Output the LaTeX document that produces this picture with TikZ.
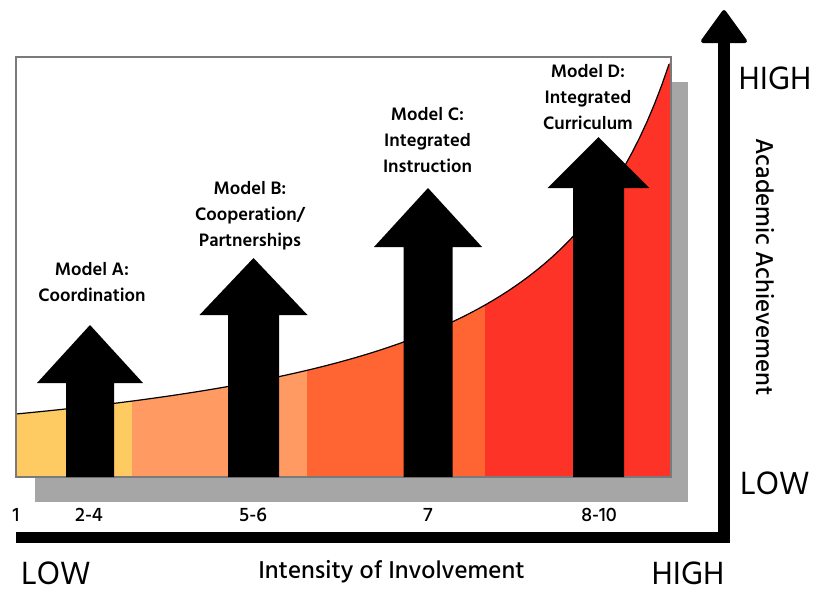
\documentclass[tikz,border=0pt]{standalone}
\usepackage{fontspec}
\setmainfont{Hind Madurai}
\newfontfamily\medfont{Hind Madurai SemiBold}
\newfontfamily\midfont{Hind Madurai Medium}
\begin{document}
\begin{tikzpicture}[x=1pt,y=-1pt,
  modellabel/.style={font=\medfont\fontsize{18.5}{26}\selectfont, align=center, inner sep=0pt},
  ticklabel/.style={font=\midfont\fontsize{20}{22}\selectfont, inner sep=0pt},
  levellabel/.style={font=\fontsize{33}{36}\selectfont, inner sep=0pt},
  axistitle/.style={font=\midfont\fontsize{25}{28}\selectfont, inner sep=0pt},
  arrowfill/.style={fill=black}
]
\definecolor{bandA}{HTML}{FDCB62}
\definecolor{bandB}{HTML}{FE9A62}
\definecolor{bandC}{HTML}{FE6532}
\definecolor{bandD}{HTML}{FE3327}
\definecolor{shadowgray}{HTML}{A6A6A6}
\definecolor{framegray}{HTML}{7A7A7A}

\newcommand{\upblock}[5]{% centre x, shaft half width, head half width, head base y, tip y
  \fill[arrowfill] ({#1-#2},477) -- ({#1-#2},#4) -- ({#1-#3},#4) -- (#1,#5)
    -- ({#1+#3},#4) -- ({#1+#2},#4) -- ({#1+#2},477) -- cycle;}

\useasboundingbox[fill=white] (0,0) rectangle (815,590);

% drop shadow and chart frame
\fill[shadowgray] (35,82) rectangle (688,502);
\fill[white] (16,57) rectangle (671,477);

% coloured bands under the growth curve
\begin{scope}
  \clip plot[domain=16:669, samples=90] (\x, {489.5 - 599.5/((810-\x)/100)})
    -- (671,60) -- (671,477) -- (16,477) -- cycle;
  \fill[bandA] (16,40) rectangle (132,477);
  \fill[bandB] (132,40) rectangle (307,477);
  \fill[bandC] (307,40) rectangle (485,477);
  \fill[bandD] (485,40) rectangle (671,477);
\end{scope}
\draw[black, line width=1.2pt] plot[domain=16:669, samples=90] (\x, {489.5 - 599.5/((810-\x)/100)});
\draw[framegray, line width=1.5pt] (16,57) rectangle (671,477);

% block arrows for the four models
\upblock{90}{24}{53}{383}{325}
\upblock{253.5}{25.5}{54}{315}{258}
\upblock{428}{24.5}{54}{247}{188}
\upblock{598.5}{25.5}{51}{188}{137}

% model labels
\node[modellabel] (labA) at (92,282.5) {Model A:\\Coordination};
\node[modellabel] (labB) at (250,215.5) {Model B:\\Cooperation/\\Partnerships};
\node[modellabel] (labC) at (427.5,140.5) {Model C:\\Integrated\\Instruction};
\node[modellabel] (labD) at (588,97.5) {Model D:\\Integrated\\Curriculum};

% scale values along the intensity axis
\node[ticklabel] (t1) at (16,515) {1};
\node[ticklabel] (t2) at (89,515) {2-4};
\node[ticklabel] (t3) at (253,515) {5-6};
\node[ticklabel] (t4) at (428,515) {7};
\node[ticklabel] (t5) at (599,515) {8-10};

% axes
\draw[black, line width=11.5pt, line join=miter] (16,537.5) -- (724,537.5) -- (724,40);
\filldraw[black, line width=4pt, line join=round] (703,41) -- (724,12) -- (745,41) -- cycle;

% axis captions
\node[levellabel] (hiY) at (775,78) {HIGH};
\node[levellabel] (loY) at (775,483) {LOW};
\node[levellabel] (loX) at (56,573) {LOW};
\node[levellabel] (hiX) at (688,573.5) {HIGH};
\node[axistitle] (xt) at (391.5,572) {Intensity of Involvement};
\node[axistitle, rotate=-90] (yt) at (765,267) {Academic Achievement};
\end{tikzpicture}
\end{document}
